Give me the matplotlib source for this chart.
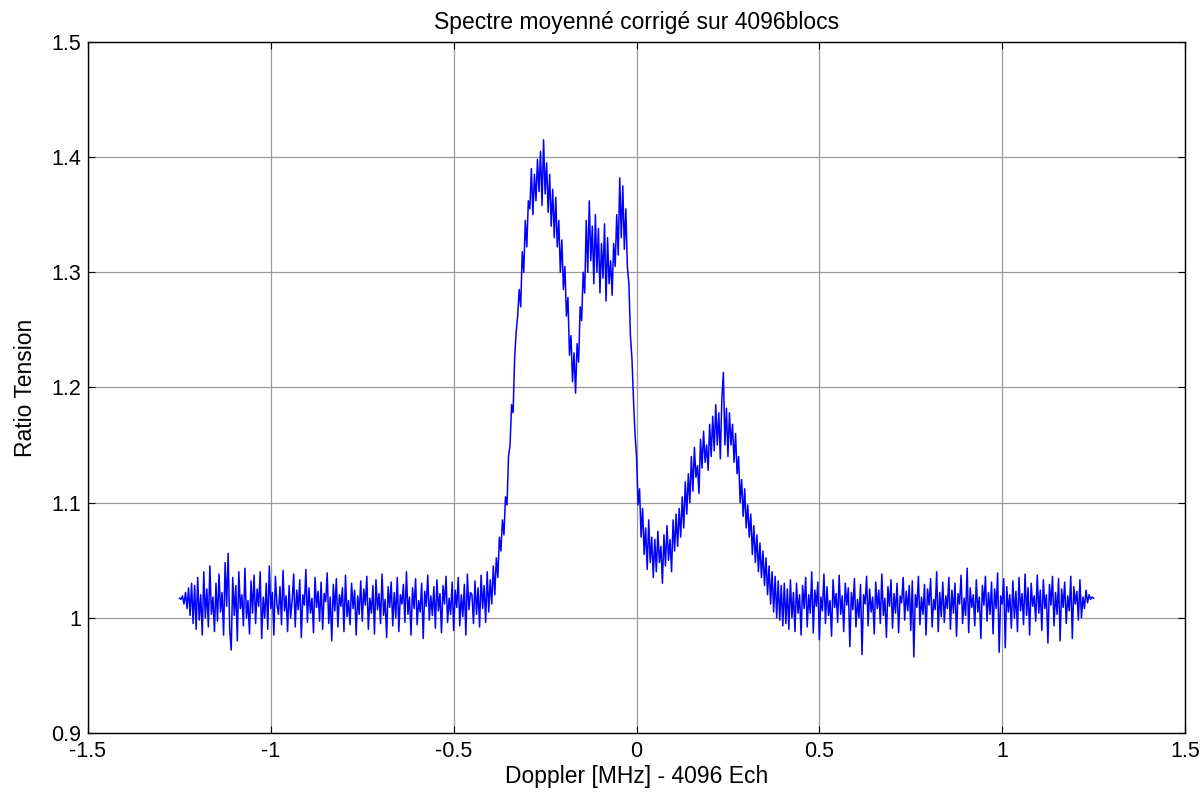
import numpy as np
import matplotlib
matplotlib.use("Agg")
import matplotlib.pyplot as plt

plt.rcParams['font.family'] = ['Liberation Sans', 'DejaVu Sans']

# ratio values in thousandths, 24 samples per 0.1 MHz, from -1.25 to +1.25 MHz
ratio_milli = [
    1017, 1016, 1019, 1012, 1022, 1008, 1026, 1002, 1030, 995, 1028, 990, 1035, 998, 1020, 985, 1040, 1000, 1025, 992, 1045, 1003, 1018, 988,
    1030, 997, 1038, 1005, 1022, 985, 1048, 1010, 1056, 990, 972, 1035, 1002, 1028, 980, 1040, 1008, 1020, 993, 1043, 1000, 1015, 986, 1032,
    1004, 1037, 995, 1025, 1010, 1040, 982, 1018, 1000, 1030, 990, 1045, 1008, 1022, 985, 1036, 1012, 1003, 1027, 994, 1041, 1006, 1019, 988,
    1028, 1000, 1015, 1038, 992, 1024, 1007, 1033, 983, 1020, 1011, 1042, 996, 1026, 1004, 1017, 987, 1035, 1009, 1023, 997, 1031, 990, 1021,
    1014, 1039, 995, 1018, 980, 1029, 1006, 1034, 992, 1020, 1010, 1026, 988, 1037, 1001, 1015, 994, 1030, 1008, 1024, 985, 1019, 1003, 1032,
    997, 1025, 1011, 1036, 990, 1017, 1004, 1028, 986, 1033, 1007, 1021, 995, 1038, 1002, 1016, 983, 1027, 1009, 1031, 993, 1022, 1000, 1035,
    988, 1020, 1012, 1029, 996, 1040, 1003, 1018, 985, 1026, 1008, 1034, 994, 1015, 1005, 1030, 982, 1023, 1010, 1037, 998, 1019, 1002, 1027,
    991, 1033, 1006, 1021, 987, 1028, 1012, 1036, 996, 1017, 1003, 1031, 989, 1024, 1009, 1035, 993, 1020, 1001, 1029, 985, 1038, 1007, 1022,
    1020, 995, 1032, 1003, 1026, 992, 1037, 1008, 1028, 996, 1040, 1005, 1033, 1012, 1045, 1020, 1052, 1035, 1070, 1058, 1085, 1072, 1105, 1098,
    1140, 1150, 1185, 1178, 1225, 1248, 1262, 1285, 1270, 1318, 1300, 1345, 1322, 1362, 1355, 1390, 1350, 1385, 1362, 1398, 1370, 1405, 1358, 1415,
    1368, 1395, 1352, 1385, 1340, 1372, 1330, 1365, 1322, 1345, 1300, 1328, 1285, 1305, 1262, 1278, 1228, 1245, 1205, 1230, 1195, 1238, 1222, 1270,
    1258, 1300, 1282, 1345, 1300, 1362, 1310, 1340, 1290, 1350, 1300, 1338, 1282, 1325, 1295, 1342, 1275, 1330, 1290, 1310, 1280, 1325, 1305, 1350,
    1315, 1382, 1330, 1375, 1320, 1355, 1305, 1290, 1245, 1225, 1190, 1160, 1140, 1098, 1112, 1070, 1095, 1055, 1078, 1042, 1085, 1048, 1070, 1035,
    1068, 1040, 1075, 1048, 1062, 1030, 1072, 1045, 1080, 1050, 1068, 1040, 1085, 1058, 1090, 1062, 1095, 1070, 1105, 1078, 1118, 1090, 1125, 1100,
    1140, 1110, 1148, 1122, 1132, 1108, 1155, 1130, 1162, 1135, 1150, 1128, 1168, 1140, 1175, 1145, 1185, 1150, 1178, 1138, 1190, 1213, 1150, 1182,
    1140, 1178, 1150, 1168, 1135, 1160, 1125, 1140, 1100, 1120, 1088, 1112, 1078, 1098, 1070, 1090, 1055, 1080, 1048, 1072, 1040, 1065, 1035, 1058,
    1028, 1052, 1020, 1045, 1012, 1040, 1005, 1036, 1000, 1032, 998, 1028, 993, 1030, 995, 1025, 990, 1033, 1000, 1022, 988, 1030, 1004, 1020,
    985, 1028, 1008, 1035, 992, 1020, 1004, 1040, 987, 1024, 1010, 1031, 981, 1018, 1006, 1038, 995, 1027, 1002, 1015, 984, 1033, 1009, 1021,
    996, 1037, 1003, 1019, 988, 1030, 1011, 1026, 975, 1022, 1007, 1034, 992, 1016, 1000, 1029, 968, 1020, 1012, 1036, 993, 1025, 1005, 1018,
    986, 1031, 1008, 1024, 995, 1038, 1002, 1017, 983, 1027, 1010, 1033, 991, 1021, 1004, 1030, 987, 1019, 1013, 1035, 998, 1023, 1006, 1028,
    989, 1032, 966, 1020, 1009, 1036, 994, 1018, 1003, 1029, 985, 1025, 1011, 1034, 992, 1016, 1007, 1040, 988, 1022, 1001, 1031, 996, 1019,
    1008, 1035, 990, 1024, 1004, 1030, 984, 1021, 1012, 1037, 995, 1017, 1002, 1043, 987, 1026, 1009, 1020, 993, 1033, 1005, 1018, 982, 1028,
    1011, 1036, 997, 1022, 1003, 1031, 986, 1025, 1008, 1039, 970, 1019, 1012, 1034, 974, 1027, 1005, 1020, 991, 1032, 1000, 1023, 988, 1035,
    1006, 1021, 994, 1038, 1002, 1026, 985, 1030, 1010, 1019, 997, 1037, 1004, 1024, 989, 1033, 1008, 1020, 978, 1029, 1011, 1036, 993, 1022,
    1003, 1034, 980, 1025, 1009, 1031, 995, 1019, 1006, 1036, 982, 1027, 1012, 1023, 998, 1033, 1000, 1018, 1008, 1024, 1013, 1020, 1016, 1018,
    1017,
]

xticks = [-1.5, -1, -0.5, 0, 0.5, 1, 1.5]
xtick_labels = ['-1.5', '-1', '-0.5', '0', '0.5', '1', '1.5']
yticks = [0.9, 1.0, 1.1, 1.2, 1.3, 1.4, 1.5]
ytick_labels = ['0.9', '1', '1.1', '1.2', '1.3', '1.4', '1.5']

ratio = np.array(ratio_milli) / 1000.0
doppler = np.linspace(-1.25, 1.25, len(ratio))

fig = plt.figure(figsize=(12.02, 7.98), dpi=100)
ax = fig.add_axes([0.0732, 0.0815, 0.9127, 0.866])

ax.plot(doppler, ratio, color='#0000ff', lw=1.1)

ax.set_xlim(-1.5, 1.5)
ax.set_ylim(0.9, 1.5)
ax.set_xticks(xticks)
ax.set_xticklabels(xtick_labels)
ax.set_yticks(yticks)
ax.set_yticklabels(ytick_labels)
ax.grid(True, color='#9a9a9a', lw=0.9)
ax.set_axisbelow(True)
ax.tick_params(direction='in', length=5, width=0.8, top=True, right=True,
               labelsize=15.5)
ax.tick_params(axis='x', pad=6)
ax.tick_params(axis='y', pad=5)
for s in ax.spines.values():
    s.set_linewidth(1.0)

ax.set_title('Spectre moyenné corrigé sur 4096blocs', fontsize=16.5, pad=9)
ax.set_xlabel('Doppler [MHz] - 4096 Ech', fontsize=16.5, labelpad=2)
ax.set_ylabel('Ratio Tension', fontsize=16.5, labelpad=10)

fig.savefig('out.png', dpi=100)
